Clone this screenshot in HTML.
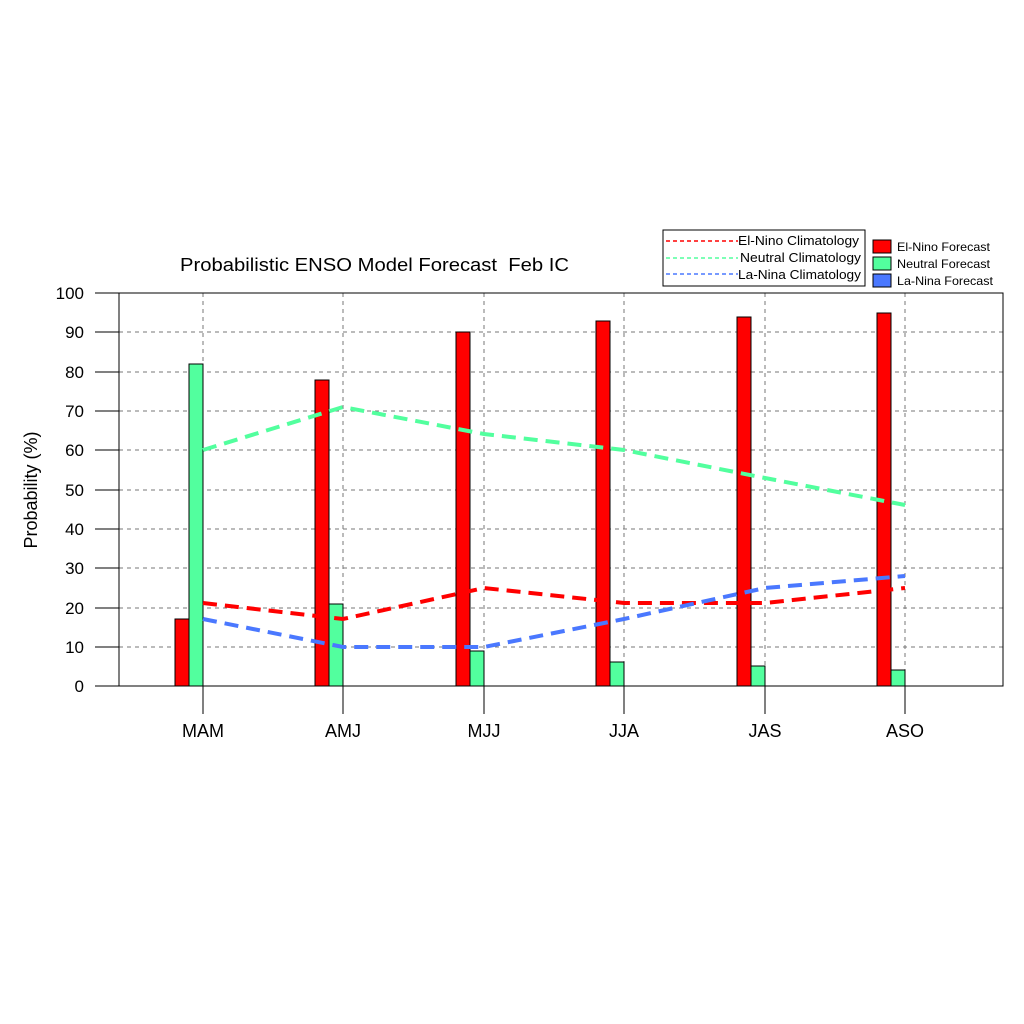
<!DOCTYPE html>
<html><head><style>body{margin:0;background:#fff}svg{display:block}text{font-family:"Liberation Sans",sans-serif}</style></head>
<body>
<svg width="1024" height="1024" viewBox="0 0 1024 1024" xmlns="http://www.w3.org/2000/svg">
<rect width="1024" height="1024" fill="#fff"/>
<g stroke="#777" stroke-width="1" stroke-dasharray="4,4">
<line x1="119" x2="1003" y1="647" y2="647"/>
<line x1="119" x2="1003" y1="608" y2="608"/>
<line x1="119" x2="1003" y1="568" y2="568"/>
<line x1="119" x2="1003" y1="529" y2="529"/>
<line x1="119" x2="1003" y1="490" y2="490"/>
<line x1="119" x2="1003" y1="450" y2="450"/>
<line x1="119" x2="1003" y1="411" y2="411"/>
<line x1="119" x2="1003" y1="372" y2="372"/>
<line x1="119" x2="1003" y1="332" y2="332"/>
<line x1="203" x2="203" y1="293" y2="686"/>
<line x1="343" x2="343" y1="293" y2="686"/>
<line x1="484" x2="484" y1="293" y2="686"/>
<line x1="624" x2="624" y1="293" y2="686"/>
<line x1="765" x2="765" y1="293" y2="686"/>
<line x1="905" x2="905" y1="293" y2="686"/>
</g>
<g stroke="#000" stroke-width="1">
<rect x="175" y="619" width="14" height="67" fill="#ff0000"/>
<rect x="189" y="364" width="14" height="322" fill="#52ff9e"/>
<rect x="315" y="380" width="14" height="306" fill="#ff0000"/>
<rect x="329" y="604" width="14" height="82" fill="#52ff9e"/>
<rect x="456" y="332" width="14" height="354" fill="#ff0000"/>
<rect x="470" y="651" width="14" height="35" fill="#52ff9e"/>
<rect x="596" y="321" width="14" height="365" fill="#ff0000"/>
<rect x="610" y="662" width="14" height="24" fill="#52ff9e"/>
<rect x="737" y="317" width="14" height="369" fill="#ff0000"/>
<rect x="751" y="666" width="14" height="20" fill="#52ff9e"/>
<rect x="877" y="313" width="14" height="373" fill="#ff0000"/>
<rect x="891" y="670" width="14" height="16" fill="#52ff9e"/>
</g>
<g fill="none" stroke-width="4" stroke-dasharray="14,8">
<polyline stroke="#52ff9e" points="203,450 343,407 484,434 624,450 765,478 905,505"/>
<polyline stroke="#ff0000" points="203,603 343,619 484,588 624,603 765,603 905,588"/>
<polyline stroke="#4a78ff" points="203,619 343,647 484,647 624,619 765,588 905,576"/>
</g>
<rect x="119" y="293" width="884" height="393" fill="none" stroke="#000" stroke-width="1"/>
<g stroke="#000" stroke-width="1">
<line x1="203" x2="203" y1="686" y2="714"/><line x1="343" x2="343" y1="686" y2="714"/>
<line x1="484" x2="484" y1="686" y2="714"/><line x1="624" x2="624" y1="686" y2="714"/>
<line x1="765" x2="765" y1="686" y2="714"/><line x1="905" x2="905" y1="686" y2="714"/>
<line x1="95" x2="119" y1="686" y2="686"/><line x1="95" x2="119" y1="647" y2="647"/>
<line x1="95" x2="119" y1="608" y2="608"/><line x1="95" x2="119" y1="568" y2="568"/>
<line x1="95" x2="119" y1="529" y2="529"/><line x1="95" x2="119" y1="490" y2="490"/>
<line x1="95" x2="119" y1="450" y2="450"/><line x1="95" x2="119" y1="411" y2="411"/>
<line x1="95" x2="119" y1="372" y2="372"/><line x1="95" x2="119" y1="332" y2="332"/>
<line x1="95" x2="119" y1="293" y2="293"/>
</g>
<g font-size="17" text-anchor="end">
<text x="84" y="692">0</text><text x="84" y="653">10</text><text x="84" y="614">20</text>
<text x="84" y="574">30</text><text x="84" y="535">40</text><text x="84" y="496">50</text>
<text x="84" y="456">60</text><text x="84" y="417">70</text><text x="84" y="378">80</text>
<text x="84" y="338">90</text><text x="84" y="299">100</text>
</g>
<g font-size="18" text-anchor="middle">
<text x="203" y="737">MAM</text><text x="343" y="737">AMJ</text><text x="484" y="737">MJJ</text>
<text x="624" y="737">JJA</text><text x="765" y="737">JAS</text><text x="905" y="737">ASO</text>
</g>
<text x="180" y="271" font-size="18" textLength="389" lengthAdjust="spacingAndGlyphs" xml:space="preserve">Probabilistic ENSO Model Forecast  Feb IC</text>
<text transform="translate(37,490) rotate(-90)" font-size="18" text-anchor="middle">Probability (%)</text>
<rect x="663" y="230" width="202" height="56" fill="#fff" stroke="#000"/>
<g stroke-width="1.5" stroke-dasharray="4,3">
<line x1="666" x2="738" y1="241" y2="241" stroke="#ff0000"/>
<line x1="666" x2="738" y1="258" y2="258" stroke="#52ff9e"/>
<line x1="666" x2="738" y1="274" y2="274" stroke="#4a78ff"/>
</g>
<g font-size="13">
<text x="738" y="245" textLength="121" lengthAdjust="spacingAndGlyphs">El-Nino Climatology</text>
<text x="740" y="262" textLength="121" lengthAdjust="spacingAndGlyphs">Neutral Climatology</text>
<text x="738" y="279" textLength="123" lengthAdjust="spacingAndGlyphs">La-Nina Climatology</text>
</g>
<g stroke="#000">
<rect x="873" y="240" width="18" height="13" fill="#ff0000"/>
<rect x="873" y="257" width="18" height="13" fill="#52ff9e"/>
<rect x="873" y="274" width="18" height="13" fill="#4a78ff"/>
</g>
<g font-size="12">
<text x="897" y="251" textLength="93" lengthAdjust="spacingAndGlyphs">El-Nino Forecast</text>
<text x="897" y="268" textLength="93" lengthAdjust="spacingAndGlyphs">Neutral Forecast</text>
<text x="897" y="285" textLength="96" lengthAdjust="spacingAndGlyphs">La-Nina Forecast</text>
</g>
</svg>
</body></html>
